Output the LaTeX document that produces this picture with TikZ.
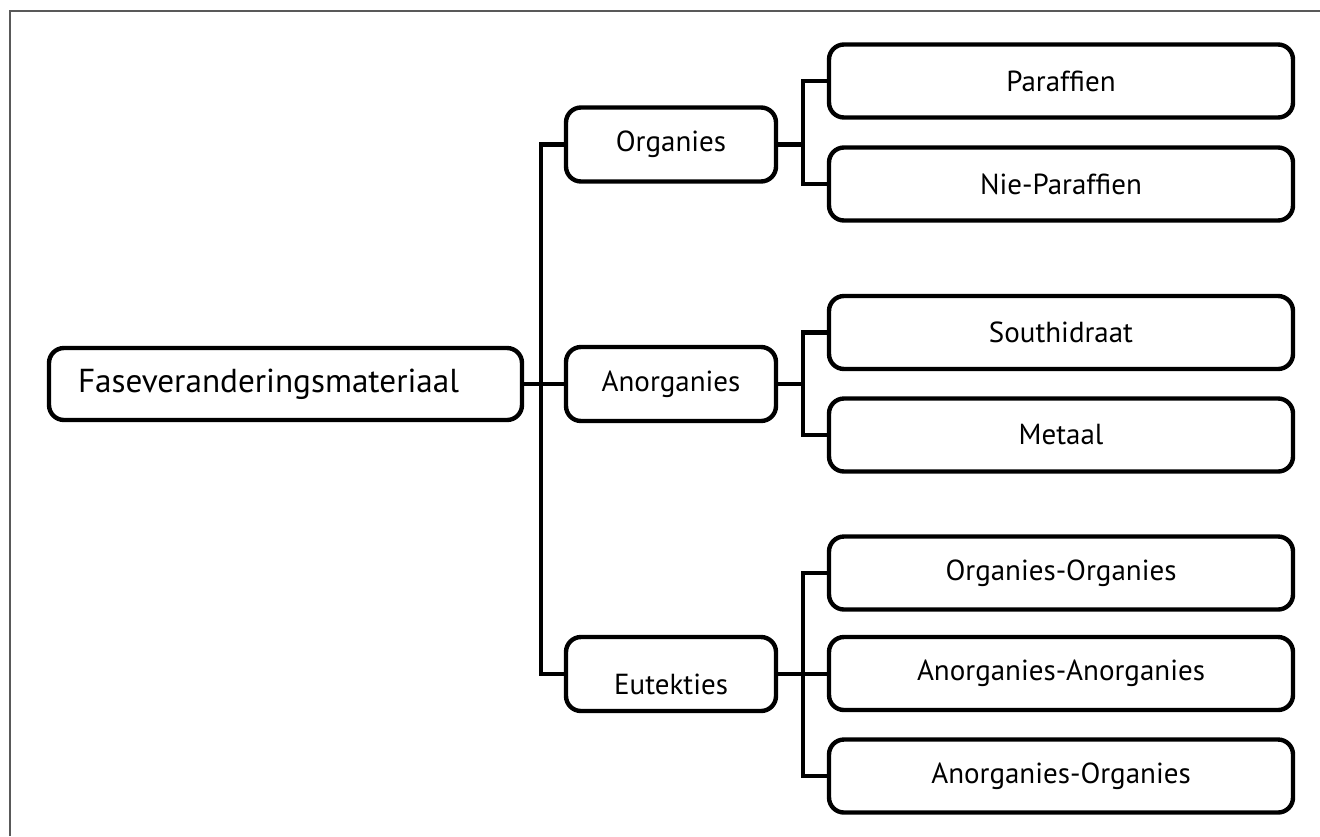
\documentclass[tikz,border=0pt]{standalone}
\usepackage{fontspec}
\setmainfont{PT Sans}

\begin{document}
\begin{tikzpicture}[x=0.5pt,y=-0.5pt,
		box/.style={draw, line width=2.2pt, rounded corners=7.5pt, inner sep=0pt, align=center, font=\fontsize{14.5}{17}\selectfont},
		rootbox/.style={box, minimum width=236.5pt, minimum height=36pt, text width=207.5pt, align=left, font=\fontsize{16.6}{20}\selectfont},
		catbox/.style={box, minimum width=105pt, minimum height=37pt},
		leafbox/.style={box, minimum width=232pt, minimum height=36.5pt},
		link/.style={line width=2.2pt}]
		\useasboundingbox (0,0) rectangle (1320,836);
		% frame
		\draw[line width=1pt, black!65] (10,836) -- (10,11) -- (1320,11);
		% root and categories
		\node[rootbox] (root) at (285.5,384) {Faseveranderingsmateriaal};
		\node[catbox] (org) at (671,144.5) {Organies};
		\node[catbox] (anorg) at (671,384) {Anorganies};
		\node[catbox, text height=20pt, text depth=0pt] (eut) at (671,674) {Eutekties};
		% leaves
		\node[leafbox] (par) at (1061,81) {Paraffien};
		\node[leafbox] (niepar) at (1061,184) {Nie-Paraffien};
		\node[leafbox] (south) at (1061,332.5) {Southidraat};
		\node[leafbox] (metaal) at (1061,435) {Metaal};
		\node[leafbox] (oo) at (1061,573) {Organies-Organies};
		\node[leafbox] (aa) at (1061,673.5) {Anorganies-Anorganies};
		\node[leafbox] (ao) at (1061,776) {Anorganies-Organies};
		% connectors
		\draw[link] (root.east) -- (anorg.west);
		\draw[link] (org.west) -- ++(-23,0) |- (eut.west);
		\draw[link] (org.east) -- ++(25,0);
		\draw[link] (par.west) -- ++(-24,0) |- (niepar.west);
		\draw[link] (anorg.east) -- ++(25,0);
		\draw[link] (south.west) -- ++(-24,0) |- (metaal.west);
		\draw[link] (eut.east) -- (eut.east -| aa.west);
		\draw[link] (oo.west) -- ++(-24,0) |- (ao.west);
\end{tikzpicture}
\end{document}
